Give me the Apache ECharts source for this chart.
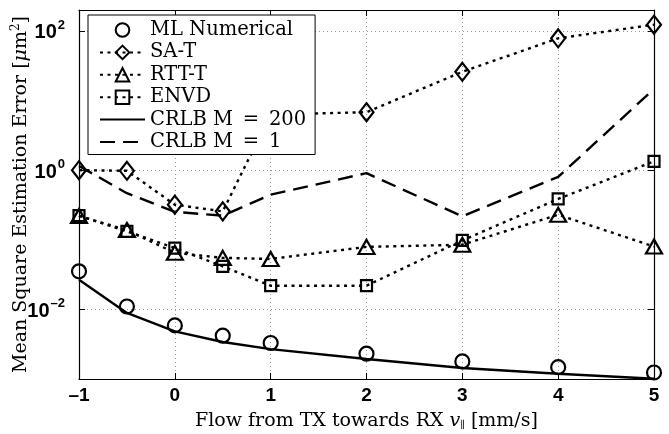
<!DOCTYPE html>
<html>
<head>
<meta charset="utf-8">
<script src="https://cdn.jsdelivr.net/npm/echarts@6/dist/echarts.min.js"></script>
<style>html,body{margin:0;padding:0;background:#fff}#c{width:669px;height:434px}</style>
</head>
<body>
<div id="c"></div>
<script>
// ---- data ----
const xs = [-1, -0.5, 0, 0.5, 1, 2, 3, 4, 5];
const mlNumerical = [0.0352, 0.0110, 0.00589, 0.00419, 0.00329, 0.00231, 0.00179, 0.00148, 0.00124];
const saT        = [1.0, 0.98, 0.319, 0.256, 6.3, 6.8, 25.9, 78.5, 123];
const rttT       = [0.22, 0.138, 0.065, 0.055, 0.053, 0.079, 0.085, 0.229, 0.080];
const envd       = [0.222, 0.132, 0.076, 0.0415, 0.0219, 0.0219, 0.098, 0.386, 1.34];
const crlb200    = [0.0267, 0.0089, 0.00483, 0.0034, 0.00269, 0.00194, 0.00144, 0.00119, 0.00101];
const crlb1      = [1.15, 0.467, 0.252, 0.222, 0.445, 0.905, 0.217, 0.80, 14.7];
const seriesNames = ['ML Numerical', 'SA-T', 'RTT-T', 'ENVD', 'CRLB M\u2002=\u2002200', 'CRLB M\u2002=\u20021'];
const xTicks = { min: -1, max: 5, interval: 1 };
const yRange = { min: 0.001, max: 200 };
const yTickExps = [-2, 0, 2];

const serif = '"DejaVu Serif", serif';
const sans = '"Liberation Sans", Arial, sans-serif';
const pairs = ys => xs.map((x, i) => [x, ys[i]]);
const dotted = [3, 4.5];
const dashed = [15, 8];

function mk(name, data, symbol, size, lineType, lineOpacity) {
  return {
    name, type: 'line', data: pairs(data),
    symbol, symbolSize: size, showSymbol: symbol !== 'none',
    lineStyle: { color: '#000', width: 2.4, type: lineType, opacity: lineOpacity },
    itemStyle: { color: 'transparent', borderColor: '#000', borderWidth: 2.2 },
    emphasis: { disabled: true }, silent: true
  };
}

const chart = echarts.init(document.getElementById('c'), null, { renderer: 'canvas' });
const axisLine = { show: true, onZero: false, lineStyle: { color: '#000', width: 1.2 } };
const tick = { show: true, inside: true, length: 6, lineStyle: { color: '#000', width: 1 } };
const grid = { show: true, lineStyle: { color: '#999', type: [1, 3], width: 1 } };

function yFmt(v) {
  const e = Math.log10(v), r = Math.round(e);
  if (Math.abs(e - r) > 1e-6 || yTickExps.indexOf(r) < 0) return '';
  return '{b|10}{s|' + (r < 0 ? '–' + (-r) : r) + '}';
}

chart.setOption({
  animation: false,
  backgroundColor: '#fff',
  grid: { left: 79, right: 15, top: 10, bottom: 55, containLabel: false, outerBoundsMode: 'none' },
  legend: {
    orient: 'vertical', left: 88, top: 15,
    itemWidth: 45, itemHeight: 17, itemGap: 2.4,
    padding: [5, 9, 2.5, 11],
    backgroundColor: '#fff', borderColor: '#000', borderWidth: 1,
    textStyle: { fontFamily: serif, fontSize: 19.5, color: '#000' },
    data: [
      { name: seriesNames[0] }, { name: seriesNames[1] }, { name: seriesNames[2] },
      { name: seriesNames[3] },
      { name: seriesNames[4], itemStyle: { opacity: 0 } },
      { name: seriesNames[5], itemStyle: { opacity: 0 } }
    ],
    selectedMode: false
  },
  xAxis: [{
    type: 'value', position: 'bottom', min: xTicks.min, max: xTicks.max, interval: xTicks.interval,
    axisLine, axisTick: tick, splitLine: grid,
    axisLabel: { margin: 7, color: '#000', fontFamily: sans, fontWeight: 'bold', fontSize: 19,
      formatter: v => v < 0 ? '–' + (-v) : String(v) },
    name: 'Flow from TX towards RX {i|v}{sub|∥} [mm/s]',
    nameLocation: 'middle', nameGap: 33, nameMoveOverlap: false,
    nameTextStyle: { fontFamily: serif, fontSize: 19, color: '#000',
      rich: { i: { fontFamily: serif, fontSize: 19, fontStyle: 'italic', color: '#000' },
              sub: { fontFamily: serif, fontSize: 10, color: '#000', padding: [8, 0, 0, 0] } } }
  }, {
    type: 'value', position: 'top', min: xTicks.min, max: xTicks.max, interval: xTicks.interval,
    axisLine, axisTick: tick, axisLabel: { show: false }, splitLine: { show: false }
  }],
  yAxis: [{
    type: 'log', logBase: 100, position: 'left', min: yRange.min, max: yRange.max,
    axisLine, axisTick: tick, splitLine: grid,
    axisLabel: { margin: 14, showMinLabel: false, showMaxLabel: false, formatter: yFmt,
      rich: { b: { fontFamily: sans, fontWeight: 'bold', fontSize: 20, color: '#000', padding: [4, 0, 0, 0] },
              s: { fontFamily: sans, fontWeight: 'bold', fontSize: 13, color: '#000', padding: [0, 0, 12, 1] } } },
    name: 'Mean Square Estimation Error [{i|μ}m{s|2}]',
    nameLocation: 'middle', nameGap: 47, nameMoveOverlap: false,
    nameTextStyle: { fontFamily: serif, fontSize: 19, color: '#000',
      rich: { i: { fontFamily: serif, fontSize: 19, fontStyle: 'italic', color: '#000' },
              s: { fontFamily: serif, fontSize: 12, color: '#000', padding: [0, 0, 10, 0] } } }
  }, {
    type: 'log', logBase: 100, position: 'right', min: yRange.min, max: yRange.max,
    axisLine, axisTick: tick, axisLabel: { show: false }, splitLine: { show: false }
  }],
  series: [
    mk(seriesNames[0], mlNumerical, 'circle', 14, 'solid', 0),
    mk(seriesNames[1], saT, 'diamond', [14, 18], dotted, 1),
    mk(seriesNames[2], rttT, 'triangle', [16, 14], dotted, 1),
    mk(seriesNames[3], envd, 'rect', 11, dotted, 1),
    mk(seriesNames[4], crlb200, 'none', 1, 'solid', 1),
    mk(seriesNames[5], crlb1, 'none', 1, dashed, 1)
  ]
});
</script>
</body>
</html>
